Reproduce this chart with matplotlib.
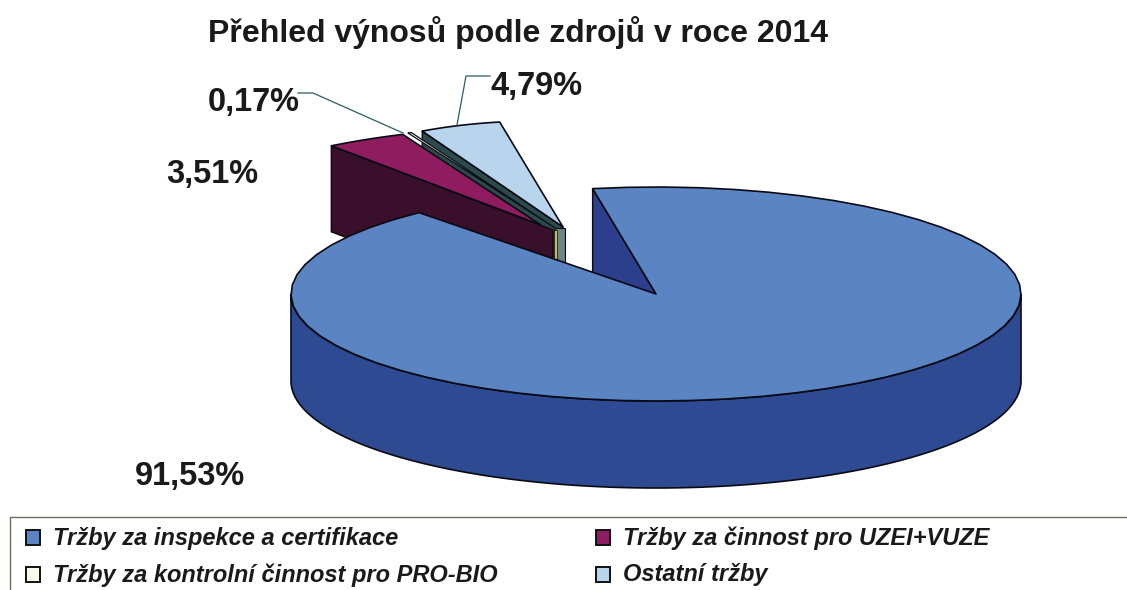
import numpy as np
import matplotlib
matplotlib.use("Agg")
import matplotlib.pyplot as plt
from matplotlib.patches import Polygon, Rectangle

plt.rcParams['font.family'] = ['Liberation Sans', 'DejaVu Sans']

title = "Přehled výnosů podle zdrojů v roce 2014"
categories = ["Tržby za inspekce a certifikace", "Tržby za činnost pro UZEI+VUZE",
              "Tržby za kontrolní činnost pro PRO-BIO", "Ostatní tržby"]
values = [91.53, 3.51, 0.17, 4.79]
labels = ["91,53%", "3,51%", "0,17%", "4,79%"]

top_cols = ["#5b84c2", "#8e1c5e", "#fbf8ec", "#b9d5ee"]
wall_cols = ["#2e4a92", "#3a0f2b", "#c9b85a", "#2b4a4c"]
edge = "#0a0a14"


def pt(tip, rx, ry, shear, deg):
    """point on the skewed ellipse, deg measured counter clockwise"""
    a = np.radians(deg)
    return np.array([tip[0] + rx * np.cos(a) + shear * np.sin(a), tip[1] - ry * np.sin(a)])


def wedge_top(ax, tip, rx, ry, shear, a_from, a_to, col, z, lw=1.2):
    angs = np.linspace(a_from, a_to, 60)
    arc = [pt(tip, rx, ry, shear, d) for d in angs]
    ax.add_patch(Polygon([tip] + arc, closed=True, fc=col, ec=edge, lw=lw, zorder=z, joinstyle="round"))


def side_wall(ax, tip, corner, depth, col, z):
    p = [corner, tip, (tip[0], tip[1] + depth), (corner[0], corner[1] + depth)]
    ax.add_patch(Polygon(p, closed=True, fc=col, ec=edge, lw=1.0, zorder=z))


fig = plt.figure(figsize=(11.27, 5.9), dpi=100)
ax = fig.add_axes([0, 0, 1, 1])
ax.set_xlim(0, 1127)
ax.set_ylim(590, 0)
ax.axis("off")

sweeps = [v * 3.6 for v in values]

# main slice
c = (656, 294)
rx, ry = 365, 107
depth = 87
start = 100.0
end = start - sweeps[0]

front = np.linspace(180, 360, 120)
upper = [pt(c, rx, ry, 0, d) for d in front]
lower = [(p[0], p[1] + depth) for p in upper][::-1]
ax.add_patch(Polygon(upper + lower, closed=True, fc=wall_cols[0], ec=edge, lw=1.2, zorder=6))
side_wall(ax, c, pt(c, rx, ry, 0, start), depth, "#2c3f8c", 6)
wedge_top(ax, c, rx, ry, 0, start, end, top_cols[0], 7)

# exploded slices, order behind to front
tip_blue = (563, 227)
tip_white = (555, 228)
tip_maroon = (541, 225)
a_blue = 98.0
a_white = a_blue + sweeps[3]
a_maroon = 115.0

# light blue
corner_b = pt(tip_blue, 277, 106, -25, a_white)
side_wall(ax, tip_blue, corner_b, 36, wall_cols[3], 2)
wedge_top(ax, tip_blue, 277, 106, -25, a_blue, a_white, top_cols[3], 3)
ax.add_patch(Rectangle((tip_blue[0] - 8, tip_blue[1] + 1), 10, 36, fc="#6f8484", ec=edge, lw=0.8, zorder=3))

# maroon wall runs on past the tip of the top face
corner_m = pt(tip_maroon, 368, 100, 19, a_maroon + sweeps[1])
wall_end = (tip_maroon[0] + 12, tip_maroon[1] + 5)
side_wall(ax, wall_end, corner_m, 86, wall_cols[1], 4)

# white sliver
wedge_top(ax, tip_white, 345, 105, 0, 114.6, 114.6 + sweeps[2], top_cols[2], 3.5, lw=0.9)
ax.add_patch(Rectangle((tip_white[0] - 1, tip_white[1] + 2), 3, 30, fc=wall_cols[2], ec=edge, lw=0.5, zorder=4.5))

wedge_top(ax, tip_maroon, 368, 100, 19, a_maroon, a_maroon + sweeps[1], top_cols[1], 5)

# data labels
label_pos = [(190, 477), (212, 174), (254, 102), (537, 86)]
for t, (x, y) in zip(labels, label_pos):
    ax.text(x, y, t, fontsize=23.5, fontweight="bold", ha="center", va="center", color="#1a1a1a", zorder=9)

# leader lines
ax.plot([298, 313, 403], [93, 93, 133], color="#2f5a66", lw=0.9, zorder=8)
ax.plot([490, 466, 457], [76, 76, 125], color="#2f5a66", lw=0.9, zorder=8)

ax.text(518, 33, title, fontsize=23, fontweight="bold", ha="center", va="center", color="#1a1a1a")

# legend
ax.plot([1127, 10, 10], [517, 517, 590], color="#6e6f62", lw=1.0)
leg_x = [33, 603, 33, 603]
leg_y = [537, 537, 574, 574]
for name, col, x, y in zip(categories, top_cols, leg_x, leg_y):
    ax.add_patch(Rectangle((x - 7, y - 7), 14, 15, fc=col, ec="#111111", lw=1.4))
    ax.text(x + 20, y + 1, name, fontsize=17, fontweight="bold", fontstyle="italic", ha="left", va="center", color="#1a1a1a")

fig.savefig("out.png", dpi=100)
